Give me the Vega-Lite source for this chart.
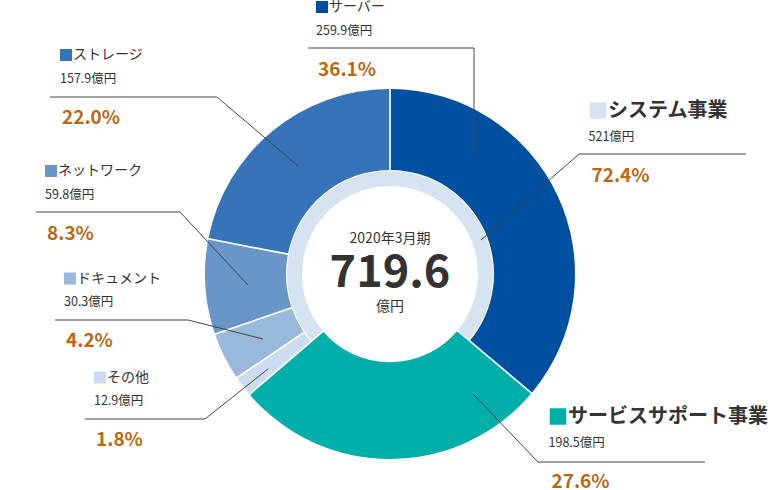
{
  "$schema": "https://vega.github.io/schema/vega-lite/v6.json",
  "width": 780,
  "height": 490,
  "padding": 0,
  "autosize": {"type": "none"},
  "background": "white",
  "config": {"view": {"stroke": null}, "text": {"font": "Noto Sans CJK JP"}},
  "datasets": {
    "segments": [
      {"name": "サーバー", "business": "システム事業", "value": 259.9, "rank": 1},
      {"name": "サービスサポート事業", "business": "サービスサポート事業", "value": 198.5, "rank": 2},
      {"name": "その他", "business": "システム事業", "value": 12.9, "rank": 3},
      {"name": "ドキュメント", "business": "システム事業", "value": 30.3, "rank": 4},
      {"name": "ネットワーク", "business": "システム事業", "value": 59.8, "rank": 5},
      {"name": "ストレージ", "business": "システム事業", "value": 157.9, "rank": 6}
    ],
    "center": [{"period": "2020年3月期", "total": 719.6, "unit": "億円"}],
    "labels": [
      {"name": "サーバー", "level": "製品", "amount": "259.9億円", "pct": 0.361, "x": -68, "y": 267},
      {"name": "ストレージ", "level": "製品", "amount": "157.9億円", "pct": 0.22, "x": -324, "y": 219},
      {"name": "ネットワーク", "level": "製品", "amount": "59.8億円", "pct": 0.083, "x": -339, "y": 103},
      {"name": "ドキュメント", "level": "製品", "amount": "30.3億円", "pct": 0.042, "x": -320, "y": -4.5},
      {"name": "その他", "level": "製品", "amount": "12.9億円", "pct": 0.018, "x": -290, "y": -103.5},
      {"name": "システム事業", "level": "事業", "amount": "521億円", "pct": 0.724, "x": 208, "y": 163.5},
      {"name": "サービスサポート事業", "level": "事業", "amount": "198.5億円", "pct": 0.276, "x": 168, "y": -142.5}
    ],
    "leaders": [
      {"name": "サーバー", "seq": 1, "x": -82, "y": 226},
      {"name": "サーバー", "seq": 2, "x": 84, "y": 226},
      {"name": "サーバー", "seq": 3, "x": 84, "y": 119},
      {"name": "システム事業", "seq": 1, "x": 356, "y": 120},
      {"name": "システム事業", "seq": 2, "x": 189, "y": 120},
      {"name": "システム事業", "seq": 3, "x": 91, "y": 34},
      {"name": "ストレージ", "seq": 1, "x": -340, "y": 177},
      {"name": "ストレージ", "seq": 2, "x": -173, "y": 177},
      {"name": "ストレージ", "seq": 3, "x": -92, "y": 108},
      {"name": "ネットワーク", "seq": 1, "x": -354, "y": 62},
      {"name": "ネットワーク", "seq": 2, "x": -210, "y": 62},
      {"name": "ネットワーク", "seq": 3, "x": -142, "y": -11},
      {"name": "ドキュメント", "seq": 1, "x": -335, "y": -46},
      {"name": "ドキュメント", "seq": 2, "x": -202, "y": -46},
      {"name": "ドキュメント", "seq": 3, "x": -127, "y": -65},
      {"name": "その他", "seq": 1, "x": -305, "y": -145},
      {"name": "その他", "seq": 2, "x": -185, "y": -145},
      {"name": "その他", "seq": 3, "x": -122, "y": -95},
      {"name": "サービスサポート事業", "seq": 1, "x": 315, "y": -188},
      {"name": "サービスサポート事業", "seq": 2, "x": 148, "y": -188},
      {"name": "サービスサポート事業", "seq": 3, "x": 83, "y": -120}
    ]
  },
  "layer": [
    {
      "data": {"name": "center"},
      "mark": {"type": "arc", "theta": 0, "theta2": 6.283185307, "outerRadius": 103, "innerRadius": 88, "fill": "#d6e4f1"},
      "encoding": {
        "x": {"datum": 0, "type": "quantitative", "scale": {"domain": [-390, 390], "nice": false, "zero": false}, "axis": null},
        "y": {"datum": 0, "type": "quantitative", "scale": {"domain": [-216, 274], "nice": false, "zero": false}, "axis": null}
      }
    },
    {
      "data": {"name": "segments"},
      "mark": {"type": "arc", "outerRadius": 106, "innerRadius": 87.5, "fill": "#00afa9", "stroke": "white", "strokeWidth": 1.5},
      "encoding": {
        "x": {"datum": 0, "type": "quantitative", "scale": {"domain": [-390, 390], "nice": false, "zero": false}, "axis": null},
        "y": {"datum": 0, "type": "quantitative", "scale": {"domain": [-216, 274], "nice": false, "zero": false}, "axis": null},
        "theta": {"field": "value", "type": "quantitative", "stack": true},
        "order": {"field": "rank", "type": "quantitative"},
        "fillOpacity": {"condition": {"test": "datum.business === 'サービスサポート事業'", "value": 1}, "value": 0},
        "strokeOpacity": {"condition": {"test": "datum.business === 'サービスサポート事業'", "value": 1}, "value": 0}
      }
    },
    {
      "data": {"name": "segments"},
      "mark": {"type": "arc", "outerRadius": 185, "innerRadius": 104, "padAngle": 0.008},
      "encoding": {
        "x": {"datum": 0, "type": "quantitative", "scale": {"domain": [-390, 390], "nice": false, "zero": false}, "axis": null},
        "y": {"datum": 0, "type": "quantitative", "scale": {"domain": [-216, 274], "nice": false, "zero": false}, "axis": null},
        "theta": {"field": "value", "type": "quantitative", "stack": true},
        "order": {"field": "rank", "type": "quantitative"},
        "color": {
          "field": "name", "type": "nominal", "legend": null,
          "scale": {
            "domain": ["サーバー", "サービスサポート事業", "その他", "ドキュメント", "ネットワーク", "ストレージ", "システム事業"],
            "range": ["#0050a2", "#00afa9", "#cddcee", "#98b8dc", "#6896c8", "#3773b9", "#d6e4f1"]
          }
        }
      }
    },
    {
      "data": {"name": "leaders"},
      "mark": {"type": "line", "color": "#444444", "strokeWidth": 1, "interpolate": "linear"},
      "encoding": {
        "x": {"field": "x", "type": "quantitative", "scale": {"domain": [-390, 390], "nice": false, "zero": false}, "axis": null},
        "y": {"field": "y", "type": "quantitative", "scale": {"domain": [-216, 274], "nice": false, "zero": false}, "axis": null},
        "detail": {"field": "name", "type": "nominal"},
        "order": {"field": "seq", "type": "quantitative"}
      }
    },
    {
      "data": {"name": "labels"},
      "transform": [{"filter": "datum.level === '製品'"}],
      "layer": [
        {
          "mark": {"type": "point", "shape": "square", "filled": true, "size": 144, "opacity": 1, "strokeWidth": 0},
          "encoding": {
            "color": {"field": "name", "type": "nominal", "legend": null}
          }
        },
        {
          "mark": {"type": "text", "align": "left", "baseline": "middle", "dx": 7, "fontSize": 14, "color": "#333333"},
          "encoding": {"text": {"field": "name"}}
        },
        {
          "mark": {"type": "text", "align": "left", "baseline": "middle", "dx": -6, "dy": 23.5, "fontSize": 12.5, "color": "#333333"},
          "encoding": {"text": {"field": "amount"}}
        },
        {
          "mark": {"type": "text", "align": "left", "baseline": "middle", "dx": -4, "dy": 62.5, "fontSize": 19, "fontWeight": "bold", "color": "#bb6812"},
          "encoding": {"text": {"field": "pct", "format": ".1%"}}
        }
      ],
      "encoding": {
        "x": {"field": "x", "type": "quantitative", "scale": {"domain": [-390, 390], "nice": false, "zero": false}, "axis": null},
        "y": {"field": "y", "type": "quantitative", "scale": {"domain": [-216, 274], "nice": false, "zero": false}, "axis": null}
      }
    },
    {
      "data": {"name": "labels"},
      "transform": [{"filter": "datum.level === '事業'"}],
      "layer": [
        {
          "mark": {"type": "point", "shape": "square", "filled": true, "size": 272, "opacity": 1, "strokeWidth": 0},
          "encoding": {
            "color": {"field": "name", "type": "nominal", "legend": null}
          }
        },
        {
          "mark": {"type": "text", "align": "left", "baseline": "middle", "dx": 10, "fontSize": 20, "fontWeight": "bold", "color": "#333333"},
          "encoding": {"text": {"field": "name"}}
        },
        {
          "mark": {"type": "text", "align": "left", "baseline": "middle", "dx": -9.5, "dy": 26, "fontSize": 12.5, "color": "#333333"},
          "encoding": {"text": {"field": "amount"}}
        },
        {
          "mark": {"type": "text", "align": "left", "baseline": "middle", "dx": -6.5, "dy": 65.5, "fontSize": 19, "fontWeight": "bold", "color": "#bb6812"},
          "encoding": {"text": {"field": "pct", "format": ".1%"}}
        }
      ],
      "encoding": {
        "x": {"field": "x", "type": "quantitative", "scale": {"domain": [-390, 390], "nice": false, "zero": false}, "axis": null},
        "y": {"field": "y", "type": "quantitative", "scale": {"domain": [-216, 274], "nice": false, "zero": false}, "axis": null}
      }
    },
    {
      "data": {"name": "center"},
      "layer": [
        {
          "mark": {"type": "text", "align": "center", "baseline": "middle", "dy": -35, "fontSize": 14, "color": "#333333"},
          "encoding": {"text": {"field": "period"}}
        },
        {
          "mark": {"type": "text", "align": "center", "baseline": "middle", "dy": -1, "fontSize": 45, "fontWeight": "bold", "color": "#333333"},
          "encoding": {"text": {"field": "total", "format": ".1f"}}
        },
        {
          "mark": {"type": "text", "align": "center", "baseline": "middle", "dy": 33, "fontSize": 14, "color": "#333333"},
          "encoding": {"text": {"field": "unit"}}
        }
      ],
      "encoding": {
        "x": {"datum": 0, "type": "quantitative", "scale": {"domain": [-390, 390], "nice": false, "zero": false}, "axis": null},
        "y": {"datum": 0, "type": "quantitative", "scale": {"domain": [-216, 274], "nice": false, "zero": false}, "axis": null}
      }
    }
  ]
}
